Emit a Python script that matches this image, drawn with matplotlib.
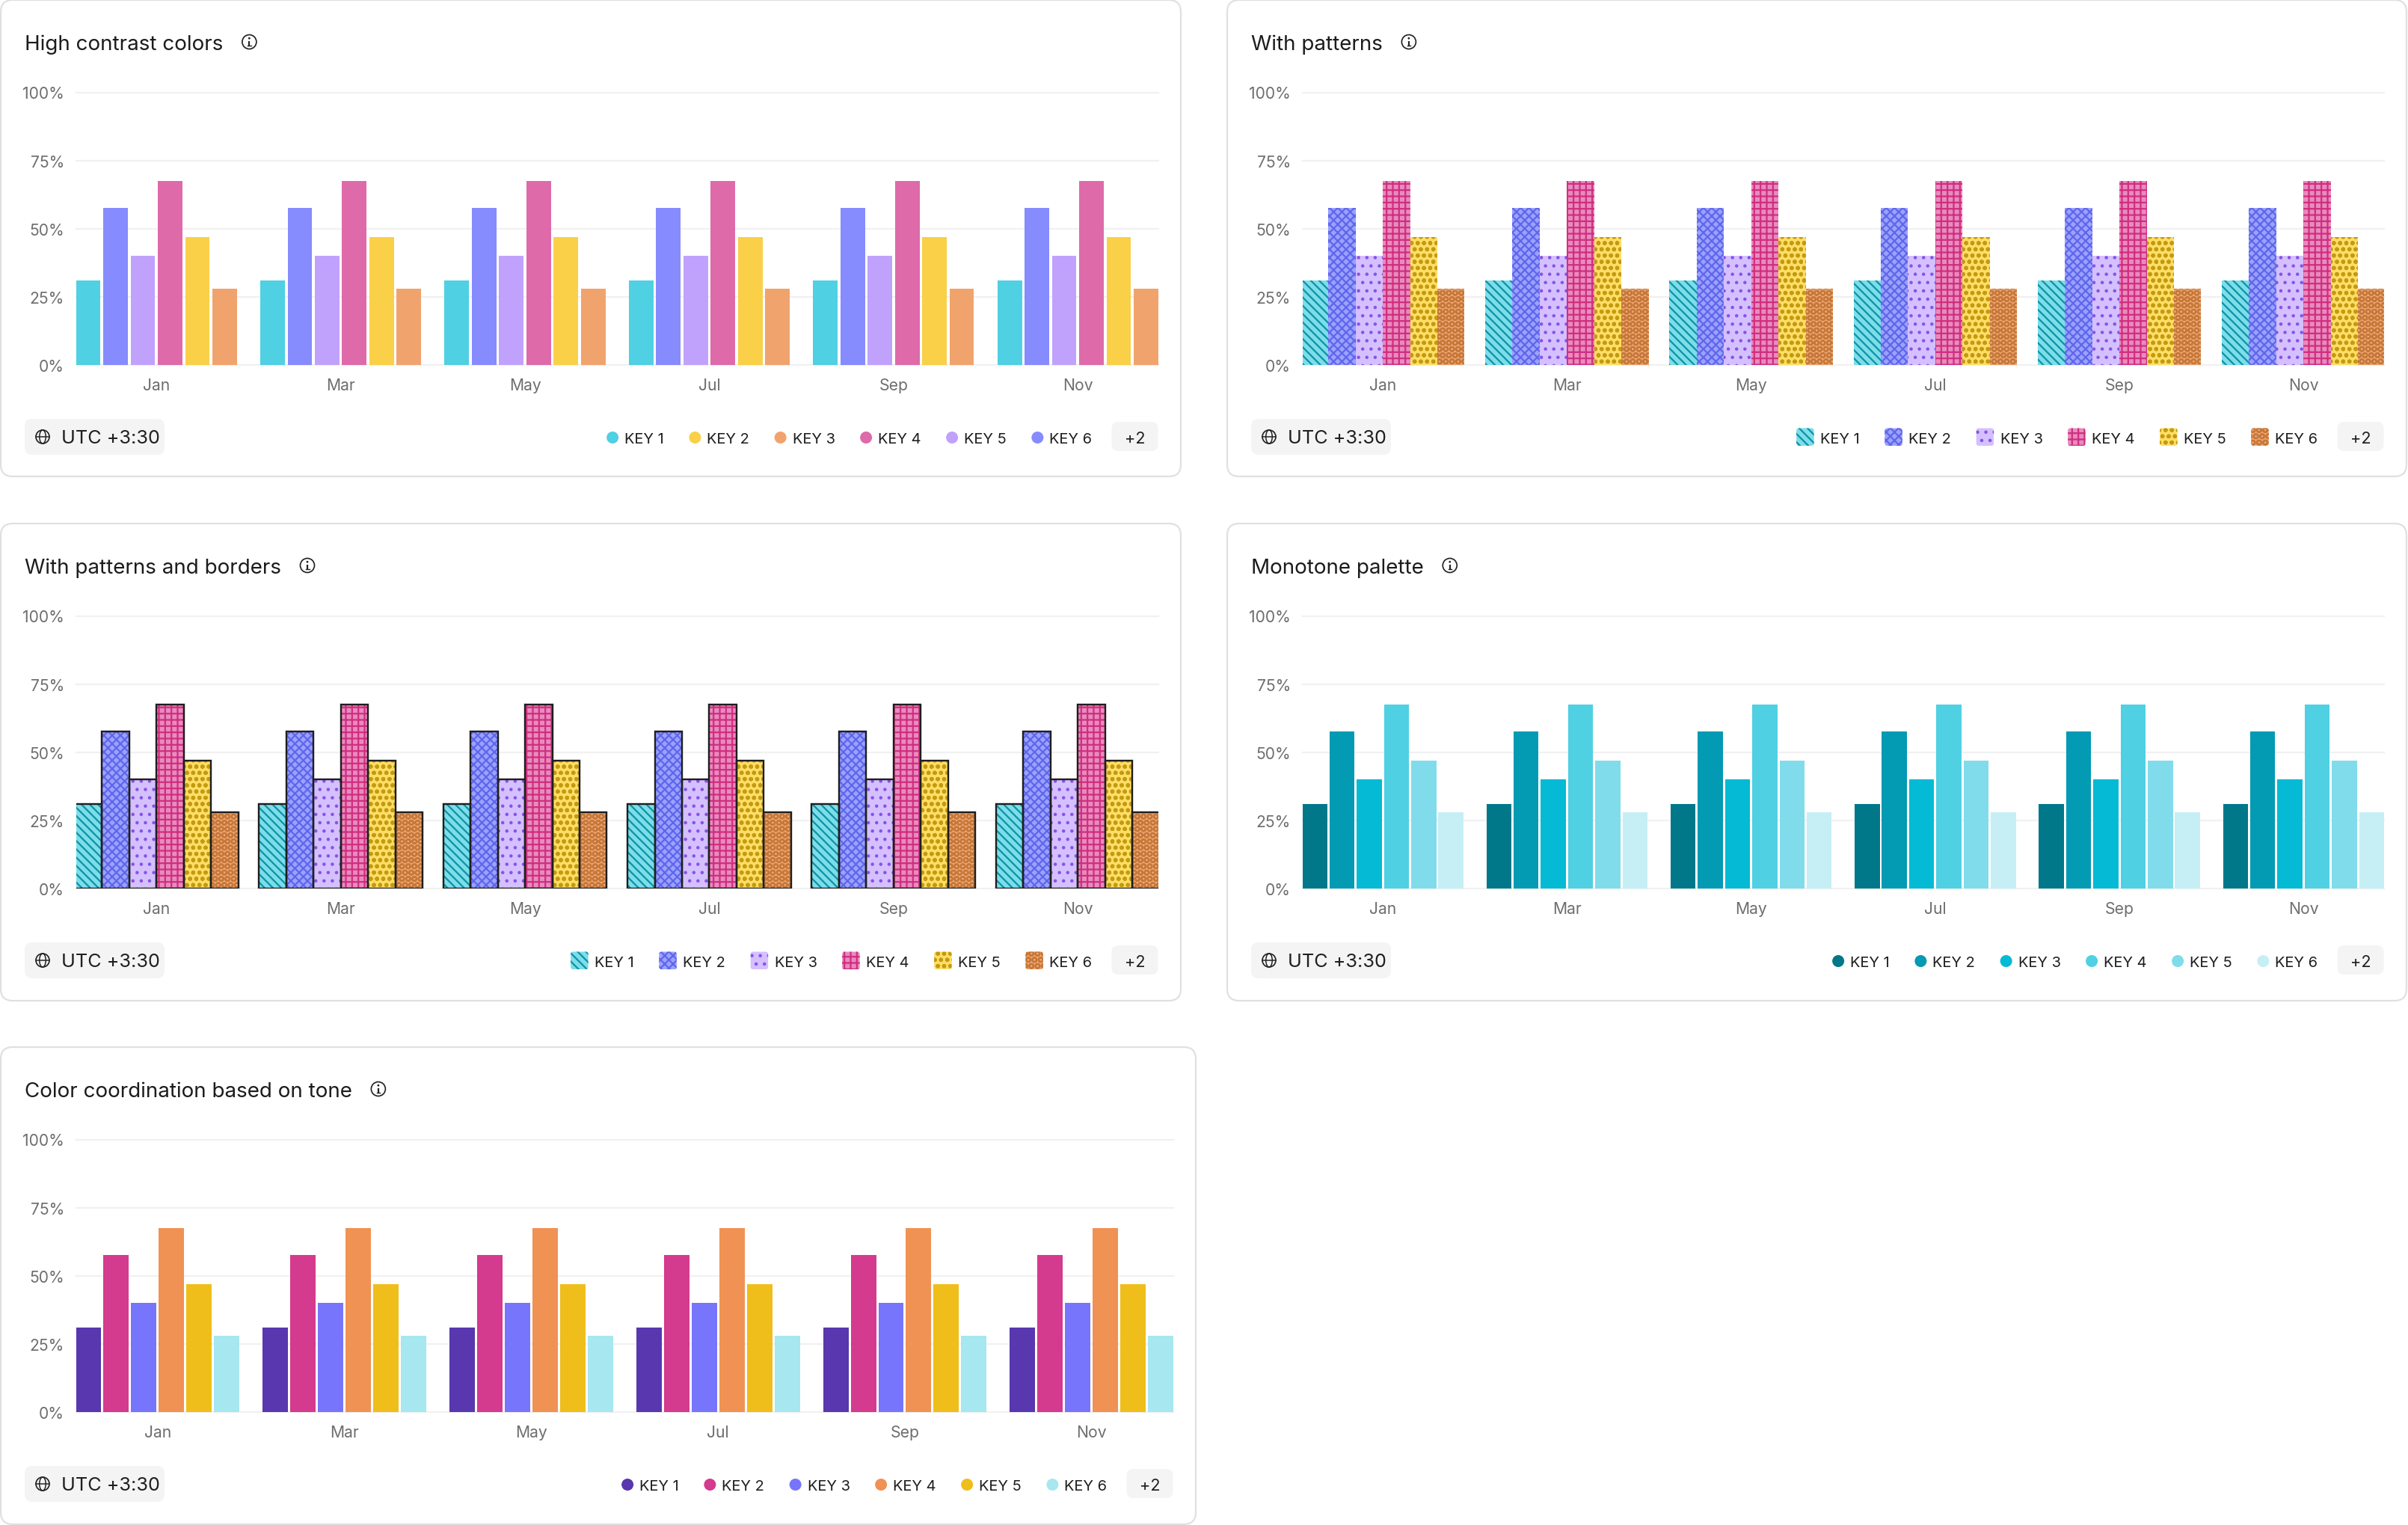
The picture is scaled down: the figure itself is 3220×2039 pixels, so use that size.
import matplotlib
matplotlib.use('Agg')
import matplotlib.pyplot as plt
from matplotlib.patches import FancyBboxPatch, Circle, Ellipse
import numpy as np

# ---------------- data ----------------
months = ['Jan', 'Mar', 'May', 'Jul', 'Sep', 'Nov']
keys = ['KEY 1', 'KEY 2', 'KEY 3', 'KEY 4', 'KEY 5', 'KEY 6']
key1 = [31, 31, 31, 31, 31, 31]
key2 = [57.5, 57.5, 57.5, 57.5, 57.5, 57.5]
key3 = [40, 40, 40, 40, 40, 40]
key4 = [67.5, 67.5, 67.5, 67.5, 67.5, 67.5]
key5 = [47, 47, 47, 47, 47, 47]
key6 = [28, 28, 28, 28, 28, 28]
series = [key1, key2, key3, key4, key5, key6]
yticks = [0, 25, 50, 75, 100]
ytick_labels = ['0%', '25%', '50%', '75%', '100%']
timezone_label = 'UTC +3:30'
more_label = '+2'

titles = ['High contrast colors', 'With patterns', 'With patterns and borders',
          'Monotone palette', 'Color coordination based on tone']

# ---------------- colours / styles ----------------
high_contrast_bars = ['#4fd0e3', '#868bfd', '#c0a2fc', '#de6aaa', '#f9d048', '#f1a36e']
high_contrast_legend = ['#4fd0e3', '#f9d048', '#f1a36e', '#de6aaa', '#c0a2fc', '#868bfd']
pattern_fill = ['#7ddde9', '#98a3ff', '#d4c0ff', '#e88bbe', '#ffdd66', '#f1a776']
pattern_ink = ['#0b93a6', '#6264ea', '#8a52e6', '#d02e80', '#c29b10', '#c57838']
pattern_hatch = ['\\' * 6, 'xxxxxx', '...', '++++', 'oooo', 'OOOO']
monotone = ['#00788a', '#039ab3', '#05bad5', '#4fd0e3', '#80dcea', '#c5eff5']
tone = ['#5837af', '#d43a8d', '#7775fc', '#f09254', '#efbe1a', '#a6e7f0']

W, H, DPI = 3220, 2040, 200
PT = 72.0 / DPI  # points per pixel

plt.rcParams['font.family'] = ['Inter', 'DejaVu Sans']
plt.rcParams['hatch.linewidth'] = 0.8

fig = plt.figure(figsize=(W / DPI, H / DPI), dpi=DPI)
fig.patch.set_facecolor('white')

ax0 = fig.add_axes([0, 0, 1, 1])
ax0.set_xlim(0, W)
ax0.set_ylim(H, 0)
ax0.axis('off')
ax0.set_zorder(0)

renderer = fig.canvas.get_renderer()

panels = [
    (1, 1, 1579, 638, 0, 'high'),
    (1641, 1, 3218, 638, 1, 'pattern'),
    (1, 701, 1579, 1339, 2, 'border'),
    (1641, 701, 3218, 1339, 3, 'mono'),
    (1, 1401, 1599, 2039, 4, 'tone'),
]

PITCH = 0.148
HALF = 2.5 * PITCH + 0.065


def text_width(t):
    return t.get_window_extent(renderer).width


def rbox(x, y, w, h, r, **kw):
    p = FancyBboxPatch((x, y), w, h, boxstyle='round,pad=0,rounding_size=%g' % r, **kw)
    ax0.add_patch(p)
    return p


for (x0, y0, x1, y1, ti, style) in panels:
    # card
    rbox(x0, y0, x1 - x0, y1 - y0, 16, fc='white', ec='#e0e0e0', lw=2.2 * PT, zorder=0)

    # title + info icon
    t = ax0.text(x0 + 32, y0 + 66, titles[ti], fontsize=10.0, color='#1c1c1c',
                 ha='left', va='baseline', zorder=3)
    tw = text_width(t)
    cx, cy = x0 + 32 + tw + 35, y0 + 56
    ax0.add_patch(Circle((cx, cy), 9.5, fill=False, ec='#222222', lw=1.7 * PT, zorder=3))
    ax0.plot([cx, cx], [cy - 1.5, cy + 5], color='#222222', lw=2.2 * PT, solid_capstyle='butt', zorder=3)
    ax0.plot([cx - 2.2, cx + 2.6], [cy + 5, cy + 5], color='#222222', lw=1.4 * PT, zorder=3)
    ax0.add_patch(Circle((cx, cy - 4.8), 1.4, fc='#222222', ec='none', zorder=3))

    # plot area
    pl, pr = x0 + 101, x1 - 30.5
    ptop, pbot = y0 + 123.5, y0 + 488
    ax = fig.add_axes([pl / W, 1 - pbot / H, (pr - pl) / W, (pbot - ptop) / H])
    ax.set_zorder(1)
    ax.patch.set_alpha(0)
    x = np.arange(len(months))
    for i, vals in enumerate(series):
        xs = x + (i - 2.5) * PITCH
        if style == 'high':
            ax.bar(xs, vals, width=PITCH - 0.015, color=high_contrast_bars[i], lw=0, zorder=2)
        elif style == 'mono':
            ax.bar(xs, vals, width=PITCH - 0.012, color=monotone[i], lw=0, zorder=2)
        elif style == 'tone':
            ax.bar(xs, vals, width=PITCH - 0.012, color=tone[i], lw=0, zorder=2)
        else:
            ax.bar(xs, vals, width=PITCH, color=pattern_fill[i], edgecolor=pattern_ink[i],
                   hatch=pattern_hatch[i], lw=0, zorder=2)
            if style == 'border':
                ax.bar(xs, vals, width=PITCH, fill=False, edgecolor='#1e1e1e',
                       lw=2.4 * PT, zorder=3)
    ax.set_xlim(-HALF, len(months) - 1 + HALF)
    ax.set_ylim(0, 100)
    ax.set_yticks(yticks)
    ax.set_yticklabels(ytick_labels)
    ax.set_xticks(x)
    ax.set_xticklabels(months)
    ax.tick_params(axis='y', length=0, pad=16 * PT, labelsize=7.6, labelcolor='#6e6e6e')
    ax.tick_params(axis='x', length=0, pad=17 * PT, labelsize=7.6, labelcolor='#6e6e6e')
    for s in ax.spines.values():
        s.set_visible(False)
    ax.set_axisbelow(True)
    ax.grid(axis='y', color='#f1f1f1', lw=2.2 * PT)
    ax.grid(axis='x', visible=False)
    for gl in ax.get_ygridlines():
        gl.set_clip_on(False)

    # timezone pill
    rbox(x0 + 32, y0 + 560, 187, 48, 10, fc='#f4f4f4', ec='none', zorder=1)
    gx, gy = x0 + 56, y0 + 584
    ax0.add_patch(Circle((gx, gy), 9, fill=False, ec='#222222', lw=1.7 * PT, zorder=3))
    ax0.add_patch(Ellipse((gx, gy), 8.5, 18, fill=False, ec='#222222', lw=1.5 * PT, zorder=3))
    ax0.plot([gx - 9, gx + 9], [gy, gy], color='#222222', lw=1.5 * PT, zorder=3)
    ax0.text(x0 + 81, y0 + 592.5, timezone_label, fontsize=9.1, color='#1f1f1f',
             ha='left', va='baseline', zorder=3)

    # "+2" pill
    mr = pr
    rbox(mr - 62, y0 + 564, 62, 39, 9, fc='#f4f4f4', ec='none', zorder=1)
    ax0.text(mr - 31, y0 + 592.5, more_label, fontsize=7.8, color='#1f1f1f',
             ha='center', va='baseline', zorder=3)

    # legend, laid out right to left
    right = mr - 62 - 26
    for k in range(len(keys) - 1, -1, -1):
        lt = ax0.text(right, y0 + 592.5, keys[k], fontsize=7.2, color='#1f1f1f',
                      ha='right', va='baseline', zorder=3)
        w = text_width(lt)
        left = right - w
        if style in ('pattern', 'border'):
            sx = left - 8.5 - 23.5
            rbox(sx, y0 + 572.5, 23.5, 23.5, 3.5, fc=pattern_fill[k], ec=pattern_ink[k],
                 hatch=pattern_hatch[k], lw=0, zorder=2)
            mleft = sx
        else:
            if style == 'high':
                c = high_contrast_legend[k]
            elif style == 'mono':
                c = monotone[k]
            else:
                c = tone[k]
            ax0.add_patch(Circle((left - 16, y0 + 585), 8, fc=c, ec='none', zorder=2))
            mleft = left - 24
        right = mleft - 33.5

fig.savefig('out.png', dpi=DPI, facecolor='white')
